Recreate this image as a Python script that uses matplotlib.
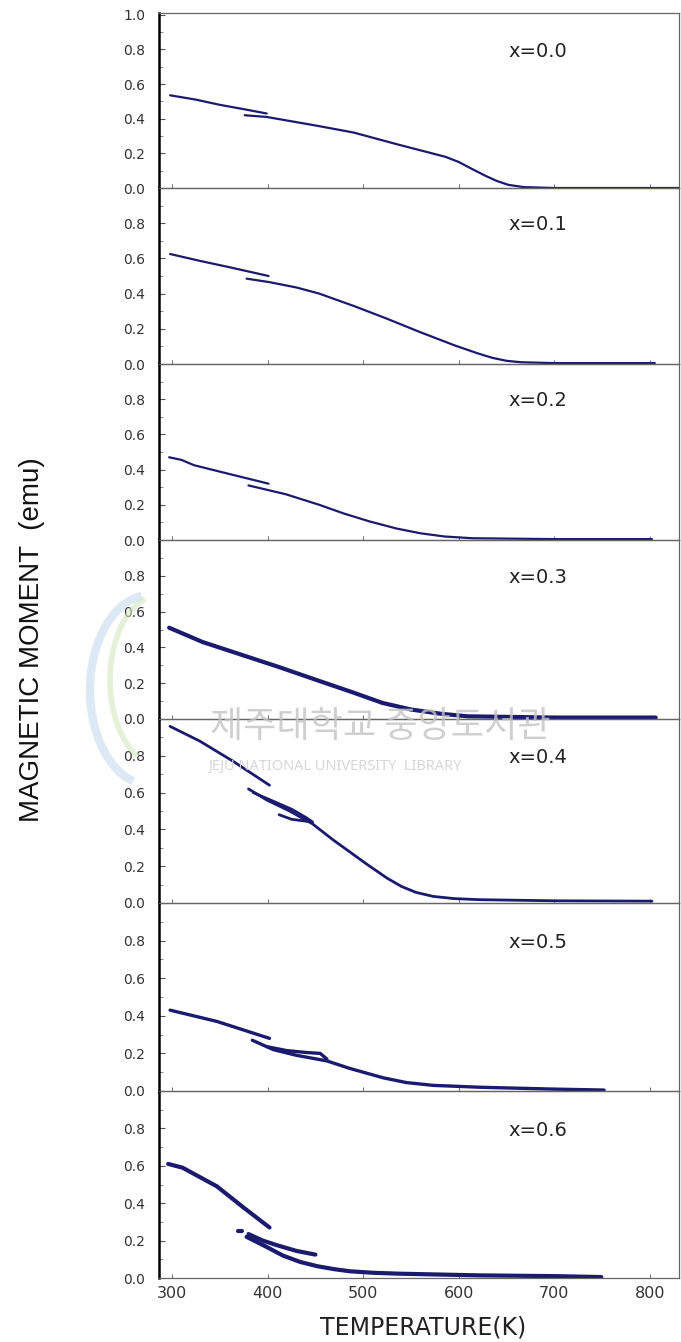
import matplotlib.pyplot as plt
from matplotlib.patches import Arc

plt.rcParams['font.family'] = ['DejaVu Sans']

# 조성별 라벨
labels = ['x=0.0', 'x=0.1', 'x=0.2', 'x=0.3', 'x=0.4', 'x=0.5', 'x=0.6']

# x=0.0
t00_a = [298, 325, 350, 375, 399]
m00_a = [0.535, 0.51, 0.48, 0.455, 0.43]
t00_b = [376, 399, 451, 490, 537, 565, 586, 600, 612, 628, 640, 652, 668, 700, 830]
m00_b = [0.42, 0.41, 0.36, 0.32, 0.25, 0.21, 0.18, 0.15, 0.115, 0.07, 0.04, 0.018, 0.005, 0.0, 0.0]

# x=0.1
t01_a = [298, 330, 360, 401]
m01_a = [0.625, 0.585, 0.55, 0.50]
t01_b = [378, 402, 430, 454, 490, 525, 560, 596, 620, 635, 650, 665, 700, 805]
m01_b = [0.485, 0.465, 0.435, 0.40, 0.33, 0.257, 0.18, 0.105, 0.06, 0.035, 0.018, 0.01, 0.005, 0.005]

# x=0.2
t02_a = [297, 310, 323, 360, 401]
m02_a = [0.47, 0.455, 0.425, 0.375, 0.32]
t02_b = [380, 419, 454, 480, 507, 535, 560, 585, 614, 700, 802]
m02_b = [0.31, 0.26, 0.20, 0.15, 0.105, 0.065, 0.038, 0.02, 0.01, 0.005, 0.005]

# x=0.3
t03_a = [297, 332, 372, 412, 450, 490, 520, 550, 580, 609, 700, 806]
m03_a = [0.51, 0.43, 0.36, 0.29, 0.22, 0.147, 0.09, 0.053, 0.03, 0.015, 0.008, 0.008]

# x=0.4
t04_a = [298, 329, 364, 402]
m04_a = [0.96, 0.88, 0.77, 0.64]
t04_b = [380, 399, 423, 447, 468, 504, 525, 540, 555, 573, 595, 622, 700, 802]
m04_b = [0.62, 0.56, 0.50, 0.43, 0.345, 0.21, 0.135, 0.09, 0.058, 0.036, 0.024, 0.018, 0.012, 0.01]
t04_c = [385, 405, 425, 440, 447, 425, 412]
m04_c = [0.60, 0.555, 0.51, 0.465, 0.44, 0.455, 0.48]

# x=0.5
t05_a = [298, 347, 402]
m05_a = [0.43, 0.37, 0.28]
t05_b = [384, 406, 430, 462, 486, 521, 545, 573, 622, 700, 752]
m05_b = [0.27, 0.22, 0.19, 0.16, 0.12, 0.07, 0.045, 0.03, 0.02, 0.01, 0.005]
t05_c = [400, 420, 440, 455, 462]
m05_c = [0.235, 0.215, 0.205, 0.20, 0.17]

# x=0.6
t06_a = [296, 311, 347, 374, 402]
m06_a = [0.61, 0.59, 0.49, 0.38, 0.27]
t06_b = [369, 373]
m06_b = [0.25, 0.25]
t06_c = [380, 395, 410, 430, 450]
m06_c = [0.235, 0.20, 0.175, 0.145, 0.125]
t06_d = [378, 399, 416, 434, 452, 470, 486, 510, 538, 622, 700, 749]
m06_d = [0.22, 0.166, 0.12, 0.086, 0.063, 0.047, 0.036, 0.028, 0.023, 0.014, 0.01, 0.005]

segments = [
    [(t00_a, m00_a), (t00_b, m00_b)],
    [(t01_a, m01_a), (t01_b, m01_b)],
    [(t02_a, m02_a), (t02_b, m02_b)],
    [(t03_a, m03_a)],
    [(t04_a, m04_a), (t04_b, m04_b), (t04_c, m04_c)],
    [(t05_a, m05_a), (t05_b, m05_b), (t05_c, m05_c)],
    [(t06_a, m06_a), (t06_b, m06_b), (t06_c, m06_c), (t06_d, m06_d)],
]
line_w = [1.6, 1.6, 1.6, 3.0, 2.0, 2.4, 3.0]
navy = '#1a1a6e'

W, H = 681, 1342
edges = [13, 188, 364, 540, 719, 903, 1091, 1278]
left, right = 159, 679

fig = plt.figure(figsize=(W / 100, H / 100), dpi=100)

# 워터마크 (도서관 로고 + 글자)
fig.add_artist(Arc((150 / W, 1 - 690 / H), 120 / W, 190 / H, theta1=100, theta2=250,
                   transform=fig.transFigure, color='#c6dbef', lw=6, alpha=0.6))
fig.add_artist(Arc((160 / W, 1 - 680 / H), 100 / W, 170 / H, theta1=110, theta2=240,
                   transform=fig.transFigure, color='#d2e6bd', lw=4, alpha=0.6))
fig.text(380 / W, 1 - 727 / H, '제주대학교 중앙도서관', family=['Noto Sans CJK KR'],
         fontsize=26, color='#c4c4c4', ha='center', va='center', alpha=0.8, zorder=0)
fig.text(335 / W, 1 - 766 / H, 'JEJU NATIONAL UNIVERSITY  LIBRARY', family=['Noto Sans'],
         fontsize=10.5, color='#d2d2d2', ha='center', va='center', alpha=0.9, zorder=0)

for i in range(7):
    top, bot = edges[i], edges[i + 1]
    ax = fig.add_axes([left / W, 1 - bot / H, (right - left) / W, (bot - top) / H])
    ax.patch.set_alpha(0)
    for t, m in segments[i]:
        ax.plot(t, m, color=navy, lw=line_w[i], solid_capstyle='round', solid_joinstyle='round')
    ax.set_xlim(286.4, 830.3)
    ax.set_ylim(0, 1.01 if i == 0 else 1.0)
    ax.set_xticks([300, 400, 500, 600, 700, 800])
    if i == 0:
        ax.set_yticks([0.0, 0.2, 0.4, 0.6, 0.8, 1.0])
    else:
        ax.set_yticks([0.0, 0.2, 0.4, 0.6, 0.8])
    ax.set_yticks([k / 10 for k in range(1, 10, 2)], minor=True)
    ax.yaxis.set_major_formatter(plt.FormatStrFormatter('%.1f'))
    ax.tick_params(axis='y', which='major', direction='in', length=4, pad=10,
                   labelsize=10, labelcolor='#333333', color='#555555')
    ax.tick_params(axis='y', which='minor', direction='in', length=3, color='#777777')
    ax.tick_params(axis='x', direction='in', length=3, color='#777777', pad=6,
                   labelsize=11.5, labelcolor='#333333', labelbottom=(i == 6))
    for s in ['top', 'right', 'bottom']:
        ax.spines[s].set_color('#666666')
        ax.spines[s].set_linewidth(0.9)
    ax.spines['left'].set_color('black')
    ax.spines['left'].set_linewidth(1.8)
    ax.text(683, 0.79, labels[i], fontsize=14, color='#222222', ha='center', va='center')

fig.text(32 / W, 1 - 640 / H, 'MAGNETIC MOMENT  (emu)', rotation=90,
         family=['Liberation Sans Narrow', 'Liberation Sans'], fontsize=20,
         color='#111111', ha='center', va='center')
fig.text(423 / W, 1 - 1327 / H, 'TEMPERATURE(K)', fontsize=17, color='#222222',
         ha='center', va='center')

fig.savefig('out.png', dpi=100)
